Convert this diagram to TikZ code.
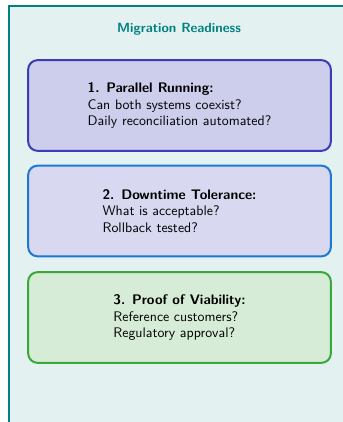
\documentclass[tikz,border=0pt]{standalone}
\usepackage{tikz}

\definecolor{frameteal}{RGB}{0,128,128}
\definecolor{framebg}{RGB}{228,241,241}
\definecolor{runborder}{RGB}{60,60,185}
\definecolor{runfill}{RGB}{205,205,236}
\definecolor{downborder}{RGB}{30,118,215}
\definecolor{downfill}{RGB}{216,216,240}
\definecolor{viaborder}{RGB}{58,168,58}
\definecolor{viafill}{RGB}{214,236,214}

\tikzset{
    checkbox/.style = {draw, line width=1.5pt, rounded corners=7pt,
        minimum width=227pt, minimum height=68pt, align=left,
        font=\sffamily\fontsize{10.4}{12.6}\selectfont, inner sep=0pt}
}

\begin{document}
\begin{tikzpicture}[x=0.75pt, y=0.75pt]
    \useasboundingbox (0,0) rectangle (343,422);
    \begin{scope}
        \clip (0,0) rectangle (343,422);
        \fill[framebg] (8.5,-5) rectangle (350,416);
        \draw[frameteal, line width=1.5pt] (8.5,-5) -- (8.5,416) -- (350,416);
    \end{scope}
    \node[frameteal, font=\sffamily\bfseries] (title) at (179,393) {Migration Readiness};

    \node[checkbox, draw=runborder, fill=runfill] (running) at (179.5,316.5)
        {\textbf{1. Parallel Running:}\\Can both systems coexist?\\Daily reconciliation automated?};
    \node[checkbox, draw=downborder, fill=downfill] (downtime) at (179.5,211)
        {\textbf{2. Downtime Tolerance:}\\What is acceptable?\\Rollback tested?};
    \node[checkbox, draw=viaborder, fill=viafill] (viability) at (179.5,104.5)
        {\textbf{3. Proof of Viability:}\\Reference customers?\\Regulatory approval?};
\end{tikzpicture}
\end{document}
